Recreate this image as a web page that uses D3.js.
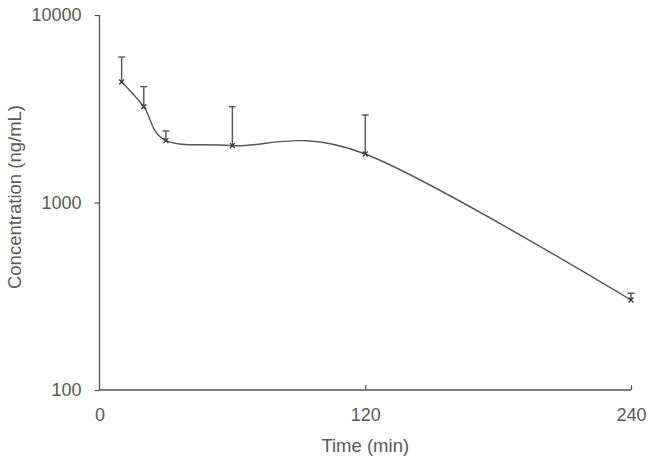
<!DOCTYPE html>
<html><head><meta charset="utf-8">
<script src="https://cdn.jsdelivr.net/npm/d3@7"></script>
<style>
html,body{margin:0;padding:0;background:#fff;}
svg{display:block;font-family:"Liberation Sans",Arial,sans-serif;}
</style></head>
<body><svg id="c" width="654" height="462"></svg>
<script>
const times = [10, 20, 30, 60, 120, 240];
const concMean = [4395, 3243, 2137, 2010, 1814, 302];
const concUpper = [5970, 4150, 2406, 3243, 2929, 328];
const xTicks = [0, 120, 240];
const yTicks = [100, 1000, 10000];

const svg = d3.select("#c");
const axisColor = "#555";
const textColor = "#595959";
const x = d3.scaleLinear().domain([0, 240]).range([99.5, 631]);
const y = d3.scaleLog().domain([100, 10000]).range([390, 15]);

// axes
const yAxis = d3.axisLeft(y).tickValues(yTicks).tickFormat(d3.format("d")).tickSize(5).tickPadding(13);
const gy = svg.append("g").attr("transform", `translate(${x(0)},0)`).call(yAxis);
const xAxis = d3.axisBottom(x).tickValues(xTicks).tickFormat(d3.format("d")).tickSize(-5).tickPadding(18);
const gx = svg.append("g").attr("transform", `translate(0,${y(100)})`).call(xAxis);
[gx, gy].forEach(g => {
  g.select(".domain").attr("stroke", axisColor).attr("stroke-width", 1.3);
  g.selectAll(".tick line").attr("stroke", axisColor).attr("stroke-width", 1.2);
  g.selectAll(".tick text").attr("fill", textColor).attr("font-size", 18).attr("font-family", "Liberation Sans, Arial, sans-serif");
});
gx.selectAll(".tick").filter(d => d === 0).select("line").remove();
gx.select(".domain").attr("d", `M${x(0)},0H${x(240)}`);
gy.select(".domain").attr("d", `M0,${y(10000)}V${y(100)}`);

// axis titles
svg.append("text").attr("x", x(120)).attr("y", 452).attr("text-anchor", "middle")
  .attr("fill", textColor).attr("font-size", 18.5).text("Time (min)");
svg.append("text").attr("transform", `translate(21,197) rotate(-90)`).attr("text-anchor", "middle")
  .attr("fill", textColor).attr("font-size", 18.5).text("Concentration (ng/mL)");

const data = times.map((t, i) => ({t, m: concMean[i], u: concUpper[i]}));

// error bars
const eb = svg.append("g").attr("stroke", "#555").attr("stroke-width", 1.4);
data.forEach(d => {
  eb.append("line").attr("x1", x(d.t)).attr("x2", x(d.t)).attr("y1", y(d.m)).attr("y2", y(d.u));
  eb.append("line").attr("x1", x(d.t) - 3.5).attr("x2", x(d.t) + 3.5).attr("y1", y(d.u)).attr("y2", y(d.u));
});

// smoothed line
const line = d3.line().x(d => x(d.t)).y(d => y(d.m)).curve(d3.curveCardinal.tension(0));
svg.append("path").datum(data).attr("d", line).attr("fill", "none").attr("stroke", "#555").attr("stroke-width", 1.4);

// markers
const mk = svg.append("g").attr("stroke", "#333").attr("stroke-width", 1.3);
data.forEach(d => {
  const cx = x(d.t), cy = y(d.m), s = 2.5;
  mk.append("path").attr("d", `M${cx-s},${cy-s}L${cx+s},${cy+s}M${cx-s},${cy+s}L${cx+s},${cy-s}`);
});
</script></body></html>
